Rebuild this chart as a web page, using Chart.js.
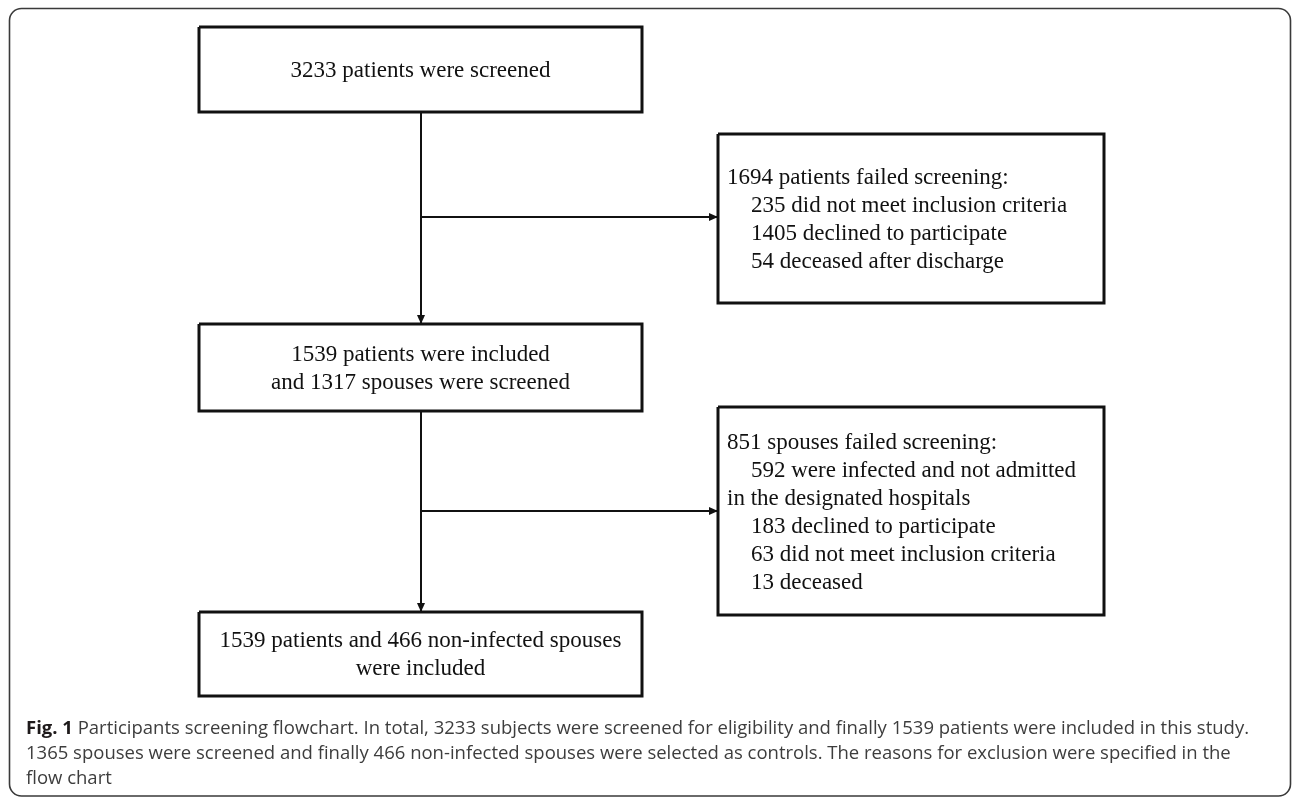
<!DOCTYPE html>
<html lang="en">
<head>
<meta charset="UTF-8">
<title>Participants screening flowchart</title>
<style>
  html, body { margin: 0; padding: 0; background: #fff; }
  #wrap { width: 1292px; height: 797px; }
</style>
</head>
<body>
<div id="wrap"><canvas id="flow" width="1292" height="797"></canvas></div>

<script src="https://cdn.jsdelivr.net/npm/chart.js@4/dist/chart.umd.min.js"></script>
<script>
// box texts
const mainText = [
  ['3233 patients were screened'],
  ['1539 patients were included', 'and 1317 spouses were screened'],
  ['1539 patients and 466 non-infected spouses', 'were included']
];
const sideText = [
  ['1694 patients failed screening:', '235 did not meet inclusion criteria', '1405 declined to participate', '54 deceased after discharge'],
  ['851 spouses failed screening:', '592 were infected and not admitted', 'in the designated hospitals', '183 declined to participate', '63 did not meet inclusion criteria', '13 deceased']
];
const sideIndent = [[0, 1, 1, 1], [0, 1, 0, 1, 1, 1]];
const captionBold = 'Fig. 1';
const caption = [
  ' Participants screening flowchart. In total, 3233 subjects were screened for eligibility and finally 1539 patients were included in this study.',
  '1365 spouses were screened and finally 466 non-infected spouses were selected as controls. The reasons for exclusion were specified in the',
  'flow chart'
];

// layout, in axis units (axis spans the page)
const mainX = [199, 642];
const mainY = [[27, 112], [324, 411], [612, 696]];
const sideX = [718, 1104];
const sideY = [[134, 303], [407, 615]];
const stemX = 421;
const branchY = [217, 511];

function boxPoints(x, y) {
  return [
    {x: x[0], y: y[0]}, {x: x[1], y: y[0]}, {x: x[1], y: y[1]},
    {x: x[0], y: y[1]}, {x: x[0], y: y[0]}
  ];
}

let datasets = [];
mainY.forEach(y => datasets.push({data: boxPoints(mainX, y), borderWidth: 3}));
sideY.forEach(y => datasets.push({data: boxPoints(sideX, y), borderWidth: 3}));
// vertical connectors between main boxes
for (let i = 0; i < mainY.length - 1; i++) {
  datasets.push({data: [{x: stemX, y: mainY[i][1]}, {x: stemX, y: mainY[i + 1][0]}], borderWidth: 2, arrow: true});
}
// branches to the side boxes
branchY.forEach(y => {
  datasets.push({data: [{x: stemX, y: y}, {x: sideX[0], y: y}], borderWidth: 2, arrow: true});
});
datasets.forEach(d => {
  d.showLine = true;
  d.borderColor = '#111';
  d.pointRadius = 0;
  d.fill = false;
  d.borderJoinStyle = 'miter';
});

// frame, arrows and text
const flowPlugin = {
  id: 'flow',
  beforeDatasetsDraw(chart) {
    const ctx = chart.ctx, sx = chart.scales.x, sy = chart.scales.y;
    ctx.save();
    ctx.strokeStyle = '#3a3a3a';
    ctx.lineWidth = 1.6;
    ctx.beginPath();
    const l = sx.getPixelForValue(9.5), t = sy.getPixelForValue(8.5);
    const r = sx.getPixelForValue(1290.5), b = sy.getPixelForValue(796);
    ctx.roundRect(l, t, r - l, b - t, 12);
    ctx.stroke();
    ctx.restore();
  },
  afterDatasetsDraw(chart) {
    const ctx = chart.ctx, sx = chart.scales.x, sy = chart.scales.y;
    ctx.save();
    // arrow heads
    chart.data.datasets.forEach((d, i) => {
      if (!d.arrow) return;
      const pts = chart.getDatasetMeta(i).data;
      const p0 = pts[pts.length - 2], p1 = pts[pts.length - 1];
      const a = Math.atan2(p1.y - p0.y, p1.x - p0.x);
      const len = 9, half = 4;
      ctx.fillStyle = '#111';
      ctx.beginPath();
      ctx.moveTo(p1.x, p1.y);
      ctx.lineTo(p1.x - len * Math.cos(a) + half * Math.sin(a), p1.y - len * Math.sin(a) - half * Math.cos(a));
      ctx.lineTo(p1.x - len * Math.cos(a) - half * Math.sin(a), p1.y - len * Math.sin(a) + half * Math.cos(a));
      ctx.closePath();
      ctx.fill();
    });

    // box texts
    const step = 28;
    ctx.fillStyle = '#111';
    ctx.font = '23px "Liberation Serif", "Times New Roman", serif';
    ctx.textBaseline = 'middle';
    ctx.textAlign = 'center';
    mainText.forEach((lines, i) => {
      const cx = sx.getPixelForValue((mainX[0] + mainX[1]) / 2);
      const cy = (mainY[i][0] + mainY[i][1]) / 2 + 1;
      lines.forEach((s, j) => {
        ctx.fillText(s, cx, sy.getPixelForValue(cy + (j - (lines.length - 1) / 2) * step));
      });
    });
    ctx.textAlign = 'left';
    sideText.forEach((lines, i) => {
      const cy = (sideY[i][0] + sideY[i][1]) / 2 + 1.5;
      lines.forEach((s, j) => {
        const x = sx.getPixelForValue(sideX[0] + 9 + sideIndent[i][j] * 24);
        ctx.fillText(s, x, sy.getPixelForValue(cy + (j - (lines.length - 1) / 2) * step));
      });
    });

    // caption
    const capX = sx.getPixelForValue(26);
    const capY = [729, 754, 779];
    ctx.font = 'bold 18.5px "Open Sans", sans-serif';
    ctx.fillStyle = '#1e1a1b';
    ctx.fillText(captionBold, capX, sy.getPixelForValue(capY[0]));
    const bw = ctx.measureText(captionBold).width;
    ctx.font = '18.5px "Open Sans", sans-serif';
    ctx.fillStyle = '#3d3d3d';
    caption.forEach((s, j) => {
      ctx.fillText(s, j === 0 ? capX + bw : capX, sy.getPixelForValue(capY[j]));
    });
    ctx.restore();
  }
};

new Chart(document.getElementById('flow'), {
  type: 'scatter',
  data: {datasets: datasets},
  options: {
    responsive: false,
    animation: false,
    devicePixelRatio: 1,
    layout: {padding: 0},
    plugins: {legend: {display: false}, tooltip: {enabled: false}},
    scales: {
      x: {type: 'linear', min: 0, max: 1292, display: false},
      y: {type: 'linear', min: 0, max: 797, reverse: true, display: false}
    }
  },
  plugins: [flowPlugin]
});
</script>
</body>
</html>
